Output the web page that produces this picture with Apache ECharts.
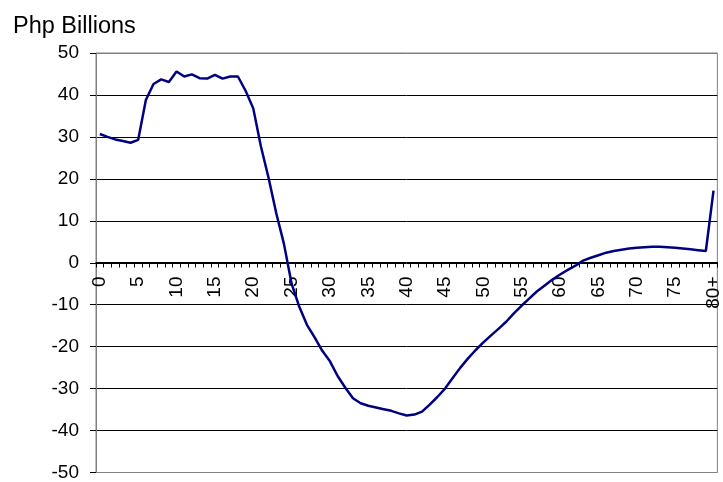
<!DOCTYPE html>
<html><head><meta charset="utf-8">
<script src="https://cdn.jsdelivr.net/npm/echarts@6/dist/echarts.min.js"></script>
<style>html,body{margin:0;padding:0;background:#fff}#c{width:723px;height:482px}</style>
</head><body><div id="c"></div>
<script>
const categories = [];
for (let i = 0; i < 80; i++) categories.push(String(i));
categories.push('80+');
const values = [
 30.7, 30.0, 29.4, 29.0, 28.6, 29.3, 38.8, 42.6, 43.7, 43.1,
 45.6, 44.4, 44.9, 44.0, 43.9, 44.8, 43.9, 44.4, 44.4, 41.0,
 36.8, 27.7, 20.2, 11.8, 4.5, -5.0, -10.5, -14.8, -17.8, -21.0,
 -23.5, -27.0, -29.8, -32.3, -33.5, -34.1, -34.5, -34.9, -35.3, -35.9,
 -36.4, -36.2, -35.5, -33.8, -32.0, -30.0, -27.5, -25.0, -22.8, -20.8,
 -19.0, -17.3, -15.7, -14.0, -12.0, -10.2, -8.5, -6.8, -5.4, -4.0,
 -2.8, -1.7, -0.7, 0.5, 1.2, 1.8, 2.4, 2.8, 3.1, 3.4,
 3.6, 3.7, 3.8, 3.8, 3.7, 3.6, 3.4, 3.2, 3.0, 2.8,
 17.2
];
const yTitle = 'Php Billions';
const yMin = -50, yMax = 50, yStep = 10;

const W = 723, H = 482;
const gTop = 53, gBottom = 9, gLeft = 96, gRight = 4;
const gH = H - gTop - gBottom;
const zeroOffset = -gH * (0 - yMin) / (yMax - yMin);

const chart = echarts.init(document.getElementById('c'));
const gridColors = [];
for (let v = yMin; v <= yMax; v += yStep) gridColors.push((v === yMin || v === yMax) ? '#808080' : '#000000');
const font = 'Liberation Sans, Arial, sans-serif';
chart.setOption({
  animation: false,
  title: { text: yTitle, left: 8, top: 10, textStyle: { fontFamily: font, fontSize: 23.5, fontWeight: 'normal', color: '#000' } },
  grid: { left: gLeft, right: gRight, top: gTop, bottom: gBottom, containLabel: false, show: true, borderColor: '#808080', borderWidth: 1 },
  xAxis: {
    type: 'category', data: categories, boundaryGap: true, position: 'bottom', offset: zeroOffset,
    axisLine: { onZero: false, lineStyle: { color: '#000', width: 1 } },
    axisTick: { show: true, interval: 0, inside: false, length: 5, lineStyle: { color: '#000' } },
    axisLabel: { interval: 4, rotate: 90, fontFamily: font, fontSize: 19, color: '#000', margin: 14 },
    splitLine: { show: false }
  },
  yAxis: {
    type: 'value', min: yMin, max: yMax, interval: yStep,
    axisLine: { show: true, lineStyle: { color: '#808080' } },
    axisTick: { show: true, length: 6, lineStyle: { color: '#000' } },
    axisLabel: { fontFamily: font, fontSize: 19, color: '#000', margin: 17 },
    splitLine: { show: true, lineStyle: { color: gridColors, width: 1 } }
  },
  series: [{
    type: 'line', data: values, symbol: 'none', smooth: false,
    lineStyle: { color: '#000080', width: 2.5 }
  }]
});
</script>
</body></html>
